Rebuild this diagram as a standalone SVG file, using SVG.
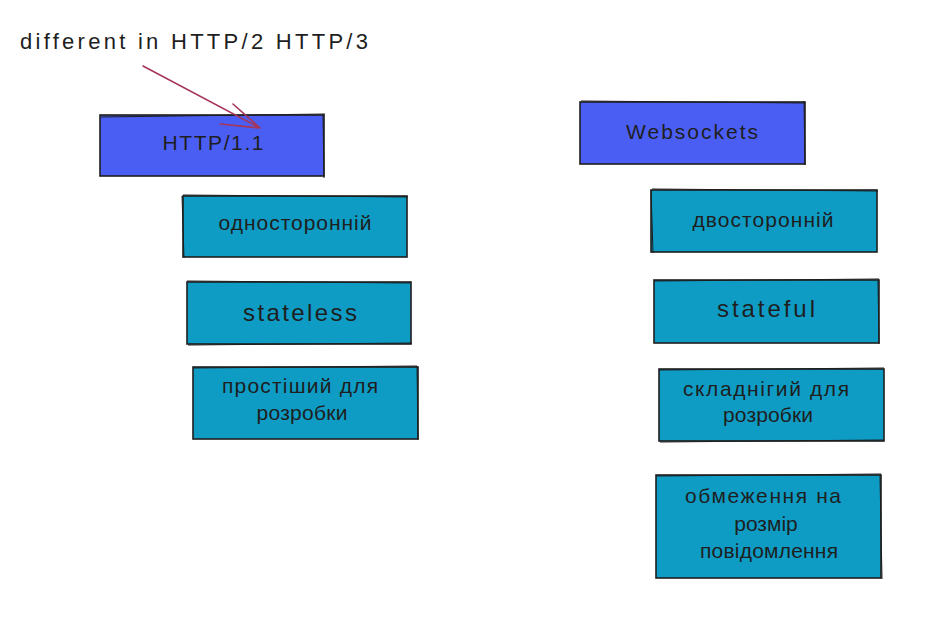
<svg xmlns="http://www.w3.org/2000/svg" width="931" height="619" viewBox="0 0 931 619">
<style>
.blue{fill:#4b5ef4;stroke:#1e1e1e;stroke-width:1.6}
.teal{fill:#0e9cc5;stroke:#1e1e1e;stroke-width:1.6}
.sk{fill:none;stroke:#1e1e1e;stroke-width:1}
text{font-family:"Liberation Sans","DejaVu Sans",sans-serif;fill:#1e1e1e;text-anchor:middle}
.t20{font-size:21px}
.t24{font-size:24px}
.ann{font-size:22px;text-anchor:start}
.arr{fill:none;stroke:#a5365a;stroke-width:1.6;stroke-linecap:round}
</style>
<rect width="931" height="619" fill="#ffffff"/>
<g id="annotation"><text class="ann" x="20" y="49" textLength="348" lengthAdjust="spacing">different in HTTP/2 HTTP/3</text></g>
<g id="n-http11"><rect class="blue" x="100" y="115" width="224" height="61"/><path class="sk" d="M101 117 L325 114 M323 114 L324 178"/><text class="t20" x="213" y="150" textLength="101" lengthAdjust="spacing">HTTP/1.1</text></g>
<g id="n-odno"><rect class="teal" x="183" y="196" width="224" height="61"/><path class="sk" d="M183 195 L408 197 M182 196 L184 258"/><text class="t20" x="295" y="230" textLength="153" lengthAdjust="spacing">односторонній</text></g>
<g id="n-stateless"><rect class="teal" x="187" y="282" width="224" height="62"/><path class="sk" d="M187 281 L411 283 M188 345 L412 343"/><text class="t24" x="300" y="321" textLength="114" lengthAdjust="spacing">stateless</text></g>
<g id="n-prost"><rect class="teal" x="193" y="367" width="225" height="72"/><path class="sk" d="M193 368 L417 366 M417 366 L418 440"/><text class="t20" x="300" y="393" textLength="156" lengthAdjust="spacing">простіший для</text><text class="t20" x="302" y="420" textLength="91" lengthAdjust="spacing">розробки</text></g>
<g id="n-ws"><rect class="blue" x="580" y="102" width="225" height="62"/><path class="sk" d="M581 101 L805 103 M804 101 L805 165"/><text class="t20" x="692" y="139" textLength="132" lengthAdjust="spacing">Websockets</text></g>
<g id="n-dvo"><rect class="teal" x="651" y="190" width="226" height="62"/><path class="sk" d="M652 189 L878 191 M651 190 L653 253"/><text class="t20" x="763" y="227" textLength="141" lengthAdjust="spacing">двосторонній</text></g>
<g id="n-stateful"><rect class="teal" x="654" y="280" width="225" height="63"/><path class="sk" d="M654 281 L879 279 M878 281 L879 344"/><text class="t24" x="766" y="317" textLength="98" lengthAdjust="spacing">stateful</text></g>
<g id="n-sklad"><rect class="teal" x="659" y="369" width="225" height="72"/><path class="sk" d="M659 370 L884 368 M660 442 L883 440"/><text class="t20" x="766" y="396" textLength="166" lengthAdjust="spacing">складнігий для</text><text class="t20" x="768" y="422" textLength="90" lengthAdjust="spacing">розробки</text></g>
<g id="n-obm"><rect class="teal" x="656" y="475" width="225" height="103"/><path class="sk" d="M657 476 L881 474 M880 476 L882 579"/><text class="t20" x="763" y="503" textLength="156" lengthAdjust="spacing">обмеження на</text><text class="t20" x="766" y="531">розмір</text><text class="t20" x="769" y="558" textLength="138" lengthAdjust="spacing">повідомлення</text></g>
<g id="connectors"><path class="arr" d="M143 66 L260 128 M233 104 L260 128 M220 124 L260 128"/></g>
</svg>
